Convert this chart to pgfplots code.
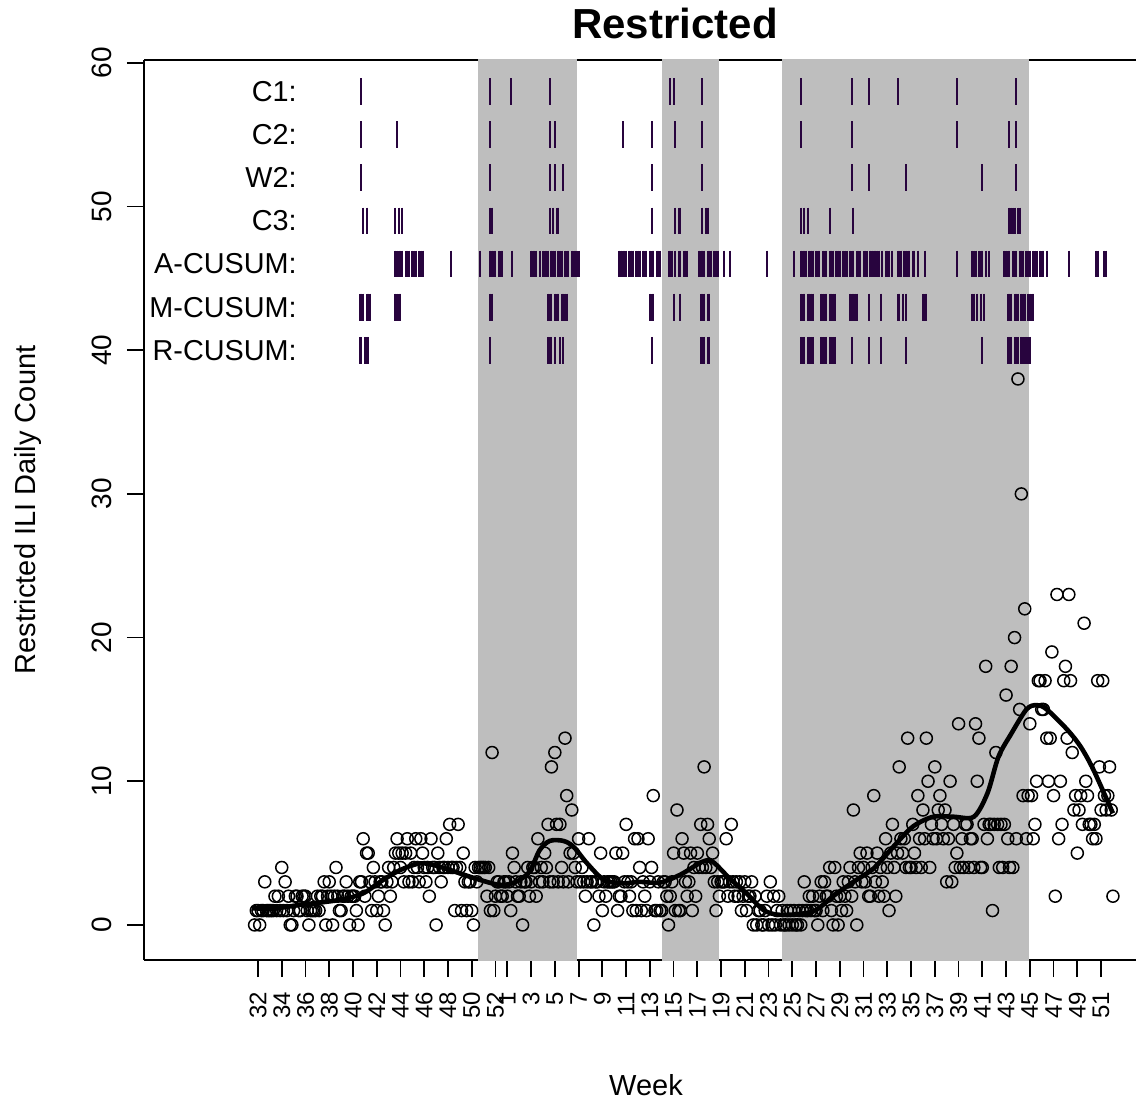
\documentclass[border=0pt]{standalone}
\usepackage{fontspec}
\setmainfont{Liberation Sans}
\usepackage{pgfplots}
\pgfplotsset{compat=1.18}
\definecolor{bandgray}{RGB}{190,190,190}
\definecolor{alarm}{RGB}{40,4,62}

\begin{document}
\begin{tikzpicture}
\begin{axis}[
  width=496pt, height=450pt, scale only axis,
  xmin=-67.2, xmax=517.6, ymin=-2.44, ymax=60.2,
  axis x line*=box, axis y line*=left,
  axis line style={-, line width=0.9pt},
  tick pos=left, tick align=outside, major tick length=8.5pt,
  tick style={black, line width=0.9pt},
  xtick={0,14,28,42,56,70,84,98,112,126,140,147,161,175,189,203,217,231,245,259,273,287,301,315,329,343,357,371,385,399,413,427,441,455,469,483,497},
  xticklabels={32,34,36,38,40,42,44,46,48,50,52,1,3,5,7,9,11,13,15,17,19,21,23,25,27,29,31,33,35,37,39,41,43,45,47,49,51},
  ytick={0,10,20,30,40,50,60},
  /pgf/number format/assume math mode=true,
  xticklabel style={rotate=90, anchor=east, font=\fontsize{12}{12}\selectfont},
  yticklabel style={rotate=90, anchor=south, font=\fontsize{14}{14}\selectfont},
  xticklabel shift=4pt, yticklabel shift=4pt,
  xlabel={Week},
  xlabel style={at={(axis description cs:0.506,-0.1389)}, anchor=center, font=\fontsize{14.5}{14.5}\selectfont},
  ylabel={Restricted ILI Daily Count},
  ylabel style={at={(axis description cs:-0.1169,0.5)}, anchor=center, font=\fontsize{14.5}{14.5}\selectfont},
  title={Restricted},
  title style={at={(axis description cs:0.5353,1.0275)}, anchor=center, font=\bfseries\fontsize{21}{21}\selectfont},
]

% shaded periods
\addplot[draw=none, fill=bandgray] coordinates {(129.7,-5) (188.1,-5) (188.1,65) (129.7,65)} -- cycle;
\addplot[draw=none, fill=bandgray] coordinates {(238.2,-5) (271.8,-5) (271.8,65) (238.2,65)} -- cycle;
\addplot[draw=none, fill=bandgray] coordinates {(308.9,-5) (454.6,-5) (454.6,65) (308.9,65)} -- cycle;

% daily counts
\addplot[only marks, mark=o, mark size=3pt, mark options={line width=0.75pt}, black] table[row sep=\\] {
d y\\
-2 0\\ -1 1\\ 0 1\\ 1 0\\ 2 1\\ 3 1\\ 4 3\\ 5 1\\ 6 1\\
7 1\\ 8 1\\ 9 1\\ 10 2\\ 11 1\\ 12 2\\ 13 1\\
14 4\\ 15 1\\ 16 3\\ 17 1\\ 18 2\\ 19 0\\ 20 0\\
21 1\\ 22 2\\ 23 2\\ 24 1\\ 25 1\\ 26 2\\ 27 2\\
28 2\\ 29 1\\ 30 0\\ 31 1\\ 32 1\\ 33 1\\ 34 1\\
35 2\\ 36 1\\ 37 2\\ 38 2\\ 39 3\\ 40 0\\ 41 2\\
42 3\\ 43 2\\ 44 0\\ 45 2\\ 46 4\\ 47 2\\ 48 1\\
49 1\\ 50 2\\ 51 2\\ 52 3\\ 53 2\\ 54 0\\ 55 2\\
56 2\\ 57 2\\ 58 1\\ 59 0\\ 60 3\\ 61 3\\ 62 6\\
63 2\\ 64 5\\ 65 5\\ 66 3\\ 67 1\\ 68 4\\ 69 3\\
70 1\\ 71 2\\ 72 3\\ 73 3\\ 74 1\\ 75 0\\ 76 3\\
77 4\\ 78 2\\ 79 3\\ 80 4\\ 81 5\\ 82 6\\ 83 5\\
84 4\\ 85 5\\ 86 3\\ 87 5\\ 88 6\\ 89 3\\ 90 5\\
91 3\\ 92 4\\ 93 6\\ 94 4\\ 95 3\\ 96 6\\ 97 5\\
98 4\\ 99 3\\ 100 4\\ 101 2\\ 102 6\\ 103 4\\ 104 4\\
105 0\\ 106 5\\ 107 4\\ 108 3\\ 109 4\\ 110 4\\ 111 6\\
112 4\\ 113 7\\ 114 4\\ 115 4\\ 116 1\\ 117 4\\ 118 7\\
119 4\\ 120 1\\ 121 5\\ 122 3\\ 123 1\\ 124 3\\ 125 3\\
126 1\\ 127 0\\ 128 4\\ 129 3\\ 130 4\\ 131 4\\ 132 4\\
133 4\\ 134 4\\ 135 2\\ 136 4\\ 137 1\\ 138 12\\ 139 1\\
140 2\\ 141 3\\ 142 3\\ 143 2\\ 144 2\\ 145 3\\ 146 3\\
147 2\\ 148 3\\ 149 1\\ 150 5\\ 151 4\\ 152 3\\ 153 2\\
154 2\\ 155 3\\ 156 0\\ 157 3\\ 158 3\\ 159 4\\ 160 2\\
161 3\\ 162 4\\ 163 4\\ 164 2\\ 165 6\\ 166 3\\ 167 4\\
168 3\\ 169 5\\ 170 4\\ 171 7\\ 172 3\\ 173 11\\ 174 3\\
175 12\\ 176 7\\ 177 3\\ 178 7\\ 179 4\\ 180 3\\ 181 13\\
182 9\\ 183 3\\ 184 5\\ 185 8\\ 186 5\\ 187 4\\ 188 3\\
189 6\\ 190 3\\ 191 4\\ 192 3\\ 193 2\\ 194 3\\ 195 6\\
196 3\\ 197 3\\ 198 0\\ 199 3\\ 200 3\\ 201 2\\ 202 5\\
203 1\\ 204 3\\ 205 2\\ 206 3\\ 207 3\\ 208 3\\ 209 3\\
210 3\\ 211 5\\ 212 1\\ 213 2\\ 214 2\\ 215 5\\ 216 3\\
217 7\\ 218 3\\ 219 2\\ 220 3\\ 221 1\\ 222 6\\ 223 1\\
224 6\\ 225 4\\ 226 1\\ 227 3\\ 228 2\\ 229 1\\ 230 6\\
231 3\\ 232 4\\ 233 9\\ 234 1\\ 235 1\\ 236 3\\ 237 1\\
238 1\\ 239 3\\ 240 3\\ 241 2\\ 242 0\\ 243 2\\ 244 3\\
245 5\\ 246 1\\ 247 8\\ 248 1\\ 249 1\\ 250 6\\ 251 5\\
252 3\\ 253 2\\ 254 3\\ 255 5\\ 256 1\\ 257 4\\ 258 2\\
259 5\\ 260 4\\ 261 7\\ 262 4\\ 263 11\\ 264 4\\ 265 7\\
266 6\\ 267 4\\ 268 5\\ 269 3\\ 270 1\\ 271 3\\ 272 2\\
273 3\\ 274 3\\ 275 3\\ 276 6\\ 277 2\\ 278 3\\ 279 7\\
280 3\\ 281 2\\ 282 3\\ 283 2\\ 284 3\\ 285 1\\ 286 2\\
287 3\\ 288 1\\ 289 2\\ 290 2\\ 291 3\\ 292 0\\ 293 2\\
294 0\\ 295 1\\ 296 1\\ 297 0\\ 298 0\\ 299 1\\ 300 2\\
301 0\\ 302 3\\ 303 0\\ 304 2\\ 305 0\\ 306 1\\ 307 2\\
308 0\\ 309 1\\ 310 0\\ 311 0\\ 312 1\\ 313 0\\ 314 1\\
315 0\\ 316 1\\ 317 0\\ 318 0\\ 319 1\\ 320 0\\ 321 1\\
322 3\\ 323 1\\ 324 1\\ 325 2\\ 326 1\\ 327 2\\ 328 1\\
329 1\\ 330 0\\ 331 2\\ 332 3\\ 333 1\\ 334 3\\ 335 2\\
336 2\\ 337 4\\ 338 1\\ 339 0\\ 340 4\\ 341 2\\ 342 0\\
343 2\\ 344 1\\ 345 3\\ 346 2\\ 347 1\\ 348 3\\ 349 4\\
350 2\\ 351 8\\ 352 3\\ 353 0\\ 354 4\\ 355 5\\ 356 3\\
357 4\\ 358 3\\ 359 5\\ 360 2\\ 361 2\\ 362 4\\ 363 9\\
364 3\\ 365 5\\ 366 2\\ 367 4\\ 368 3\\ 369 2\\ 370 6\\
371 4\\ 372 1\\ 373 5\\ 374 7\\ 375 4\\ 376 2\\ 377 5\\
378 11\\ 379 6\\ 380 5\\ 381 6\\ 382 4\\ 383 13\\ 384 4\\
385 4\\ 386 7\\ 387 5\\ 388 4\\ 389 9\\ 390 6\\ 391 4\\
392 8\\ 393 6\\ 394 13\\ 395 10\\ 396 4\\ 397 7\\ 398 6\\
399 11\\ 400 6\\ 401 8\\ 402 9\\ 403 7\\ 404 6\\ 405 8\\
406 3\\ 407 6\\ 408 10\\ 409 3\\ 410 7\\ 411 4\\ 412 5\\
413 14\\ 414 4\\ 415 6\\ 416 4\\ 417 7\\ 418 7\\ 419 4\\
420 6\\ 421 6\\ 422 4\\ 423 14\\ 424 10\\ 425 13\\ 426 4\\
427 4\\ 428 7\\ 429 18\\ 430 6\\ 431 7\\ 432 7\\ 433 1\\
434 7\\ 435 12\\ 436 7\\ 437 4\\ 438 7\\ 439 4\\ 440 7\\
441 16\\ 442 6\\ 443 4\\ 444 18\\ 445 4\\ 446 20\\ 447 6\\
448 38\\ 449 15\\ 450 30\\ 451 9\\ 452 22\\ 453 6\\ 454 9\\
455 14\\ 456 9\\ 457 6\\ 458 7\\ 459 10\\ 460 17\\ 461 17\\
462 15\\ 463 15\\ 464 17\\ 465 13\\ 466 10\\ 467 13\\ 468 19\\
469 9\\ 470 2\\ 471 23\\ 472 6\\ 473 10\\ 474 7\\ 475 17\\
476 18\\ 477 13\\ 478 23\\ 479 17\\ 480 12\\ 481 8\\ 482 9\\
483 5\\ 484 8\\ 485 9\\ 486 7\\ 487 21\\ 488 10\\ 489 9\\
490 7\\ 491 7\\ 492 6\\ 493 7\\ 494 6\\ 495 17\\ 496 11\\
497 8\\ 498 17\\ 499 9\\ 500 8\\ 501 9\\ 502 11\\ 503 8\\ 504 2\\
};

% smoothed trend
\addplot[black, line width=2.3pt, smooth, tension=0.5] coordinates {
(-3,1.16) (10,1.15) (25,1.4) (48,1.74) (62,2.2) (72,3.0) (84,3.83) (96,4.29)
(107,4.06) (119,3.59) (131,3.13) (143,2.78) (152,3.0) (160,3.7) (166,5.2)
(172,5.85) (180,5.85) (186,5.44) (194,4.29) (204,3.13) (215,2.9) (225,3.0)
(237,2.95) (249,3.5) (262,4.4) (268,4.4) (278,3.24) (288,2.2) (298,1.04)
(308,0.7) (327,0.93) (339,2.0) (351,3.0) (363,3.94) (374.5,5.44) (386,6.84)
(398,7.53) (410,7.53) (422,7.53) (430,9.16) (436.5,11.7) (444,13.3) (453,15.0)
(459,15.3) (465,15.0) (477,13.6) (485,12.4) (492.5,10.8) (504,7.77)
};

% alarm days
\pgfplotsset{alarmmarks/.style={only marks, mark=|, mark size=6.7pt, mark options={line width=1.0pt, draw=alarm}}}
% C1
\addplot[alarmmarks] coordinates {(61,58) (137,58) (149,58) (172,58) (243,58) (245,58) (262,58) (320,58) (350,58) (360,58) (377,58) (412,58) (447,58)};
% C2
\addplot[alarmmarks] coordinates {(61,55) (82,55) (137,55) (172,55) (175,55) (215,55) (232,55) (246,55) (262,55) (320,55) (350,55) (412,55) (443,55) (447,55)};
% W2
\addplot[alarmmarks] coordinates {(61,52) (137,52) (172,52) (175,52) (180,52) (232,52) (262,52) (350,52) (360,52) (382,52) (427,52) (447,52)};
% C3
\addplot[alarmmarks] coordinates {(62,49) (64,49) (81,49) (83,49) (85,49) (137,49) (138,49) (172,49) (174,49) (176,49) (177,49)
(232,49) (246,49) (248,49) (249,49) (262,49) (264,49) (265,49) (320,49) (322,49) (324,49) (337,49) (351,49)
(443,49) (444,49) (445,49) (446,49) (448,49) (449,49)};
% A-CUSUM
\addplot[alarmmarks] coordinates {
(81,46) (82,46) (83,46) (84,46) (85,46) (87,46) (88,46) (89,46) (91,46) (92,46) (93,46) (95,46) (96,46) (97,46)
(114,46) (131,46) (137,46) (138,46) (139,46) (140,46) (142,46) (143,46) (144,46) (150,46)
(161,46) (162,46) (163,46) (164,46) (166,46) (168,46) (169,46) (170,46) (171,46) (173,46) (174,46) (175,46)
(177,46) (178,46) (179,46) (181,46) (182,46) (183,46) (185,46) (186,46) (187,46) (188,46) (189,46)
(213,46) (214,46) (215,46) (216,46) (217,46) (219,46) (220,46) (221,46) (223,46) (224,46) (225,46) (227,46)
(228,46) (229,46) (231,46) (232,46) (233,46) (235,46) (236,46) (237,46)
(242,46) (243,46) (244,46) (246,46) (248,46) (249,46) (251,46) (252,46) (253,46)
(260,46) (261,46) (262,46) (263,46) (265,46) (266,46) (267,46) (269,46) (270,46) (271,46)
(275,46) (278,46) (300,46) (316,46)
(320,46) (321,46) (322,46) (323,46) (325,46) (326,46) (327,46) (329,46) (330,46) (331,46) (333,46) (334,46)
(335,46) (337,46) (338,46) (339,46) (341,46) (342,46) (343,46) (345,46) (346,46) (347,46) (349,46)
(350,46) (351,46) (353,46) (354,46) (355,46) (357,46) (358,46) (359,46) (361,46) (362,46) (363,46) (364,46)
(365,46) (366,46) (368,46) (370,46) (371,46) (372,46) (374,46)
(377,46) (378,46) (379,46) (381,46) (382,46) (383,46) (384,46) (386,46) (387,46) (389,46) (393,46) (412,46)
(421,46) (422,46) (423,46) (425,46) (426,46) (427,46) (429,46) (431,46)
(440,46) (441,46) (442,46) (443,46) (445,46) (446,46) (447,46) (449,46) (450,46) (451,46) (453,46)
(454,46) (455,46) (457,46) (458,46) (459,46) (461,46) (462,46) (463,46) (465,46)
(478,46) (494,46) (495,46) (499,46) (500,46)};
% M-CUSUM
\addplot[alarmmarks] coordinates {
(60,43) (61,43) (62,43) (64,43) (65,43) (66,43) (81,43) (82,43) (83,43) (84,43) (137,43) (138,43)
(171,43) (172,43) (173,43) (175,43) (176,43) (177,43) (179,43) (180,43) (181,43) (182,43)
(231,43) (232,43) (233,43) (245,43) (249,43) (261,43) (262,43) (263,43) (265,43) (266,43)
(320,43) (321,43) (322,43) (324,43) (325,43) (326,43) (327,43)
(332,43) (333,43) (334,43) (335,43) (337,43) (338,43) (339,43) (340,43)
(349,43) (350,43) (351,43) (352,43) (353,43) (360,43) (367,43)
(377,43) (378,43) (380,43) (382,43) (392,43) (393,43) (394,43)
(421,43) (422,43) (424,43) (426,43) (428,43)
(442,43) (443,43) (444,43) (446,43) (447,43) (448,43) (450,43) (451,43) (452,43) (454,43) (455,43) (456,43) (457,43)};
% R-CUSUM
\addplot[alarmmarks] coordinates {
(60,40) (61,40) (63,40) (64,40) (65,40) (137,40)
(171,40) (172,40) (173,40) (175,40) (178,40) (180,40) (232,40)
(261,40) (262,40) (263,40) (265,40) (266,40)
(320,40) (321,40) (322,40) (324,40) (325,40) (326,40) (327,40)
(332,40) (333,40) (334,40) (335,40) (337,40) (338,40) (339,40) (340,40)
(350,40) (360,40) (367,40) (382,40) (427,40)
(442,40) (443,40) (444,40) (446,40) (447,40) (448,40) (450,40) (451,40) (452,40) (453,40) (454,40) (455,40)};

\node[anchor=east, inner sep=0pt, font=\fontsize{14.4}{14.4}\selectfont] at (axis cs:23,58) {C1:};
\node[anchor=east, inner sep=0pt, font=\fontsize{14.4}{14.4}\selectfont] at (axis cs:23,55) {C2:};
\node[anchor=east, inner sep=0pt, font=\fontsize{14.4}{14.4}\selectfont] at (axis cs:23,52) {W2:};
\node[anchor=east, inner sep=0pt, font=\fontsize{14.4}{14.4}\selectfont] at (axis cs:23,49) {C3:};
\node[anchor=east, inner sep=0pt, font=\fontsize{14.4}{14.4}\selectfont] at (axis cs:23,46) {A-CUSUM:};
\node[anchor=east, inner sep=0pt, font=\fontsize{14.4}{14.4}\selectfont] at (axis cs:23,43) {M-CUSUM:};
\node[anchor=east, inner sep=0pt, font=\fontsize{14.4}{14.4}\selectfont] at (axis cs:23,40) {R-CUSUM:};
\end{axis}
\pgfresetboundingbox
\path ([xshift=-72pt,yshift=-70pt]current axis.south west) rectangle ([yshift=30pt]current axis.north east);
\end{tikzpicture}
\end{document}
